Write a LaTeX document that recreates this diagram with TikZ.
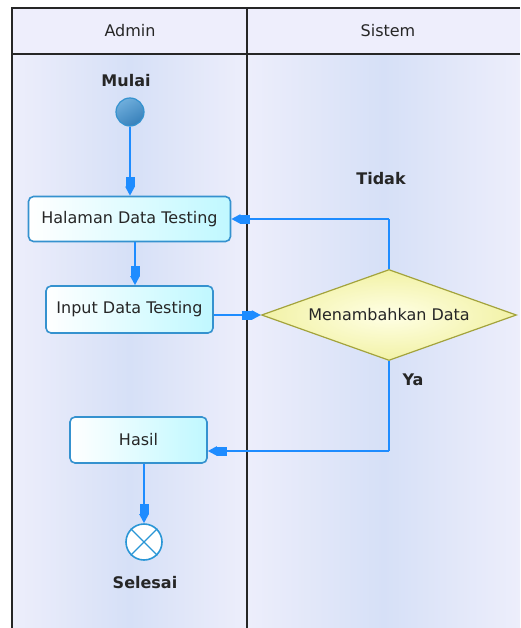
\documentclass[tikz,border=0pt]{standalone}
\usepackage{fontspec}
\setmainfont{DejaVu Sans}
\usetikzlibrary{arrows.meta,shapes.geometric,calc}

\definecolor{laneedge}{HTML}{EDEEFB}
\definecolor{lanemid}{HTML}{D6E0F7}
\definecolor{headbg}{HTML}{EEEEFC}
\definecolor{flow}{HTML}{1E8CFF}
\definecolor{boxline}{HTML}{3592CF}
\definecolor{boxfill}{HTML}{C0F8FF}
\definecolor{decline}{HTML}{A3A33C}
\definecolor{decfill}{HTML}{F2F2A6}
\definecolor{ballhi}{HTML}{6FAEDC}
\definecolor{balllo}{HTML}{3780BA}
\definecolor{endline}{HTML}{2A96D6}

\tikzset{
  x=1pt, y=-1pt,
  txt/.style={font=\fontsize{16}{18}\selectfont, text=black!85},
  boldtxt/.style={font=\fontsize{16}{18}\selectfont\bfseries, text=black!85},
  actbox/.style={txt, draw=boxline, line width=1.6pt, rounded corners=5pt,
    left color=white, right color=boxfill, inner sep=0pt},
  decision/.style={txt, diamond, draw=decline, line width=1.2pt,
    inner color=white!90!yellow, outer color=decfill, inner sep=0pt, aspect=2.8},
  flowarr/.style={draw=flow, line width=2pt,
    -{Rectangle[length=10pt,width=9pt]Triangle[length=9pt,width=9pt]}},
  flowline/.style={draw=flow, line width=2pt},
  lanerule/.style={draw=black!85, line width=1.6pt},
}

\begin{document}
\begin{tikzpicture}
\useasboundingbox (0,0) rectangle (520,628);
\fill[white] (0,0) rectangle (520,628);

% swimlane backgrounds
\shade[left color=laneedge, right color=laneedge, middle color=lanemid]
  (12,54) rectangle (247,628);
\shade[left color=laneedge, right color=laneedge, middle color=lanemid]
  (247,54) rectangle (520,628);
\fill[headbg] (12,8) rectangle (520,54);

% lane rules
\draw[lanerule] (12,628) -- (12,8) -- (520,8);
\draw[lanerule] (12,54) -- (520,54);
\draw[lanerule] (247,8) -- (247,628);

% lane headers
\node[txt] (hadmin) at (130,31) {Admin};
\node[txt] (hsistem) at (388,31) {Sistem};

% start
\node[boldtxt] (lmulai) at (126,81) {Mulai};
\node[circle, minimum size=28pt, inner sep=0pt, top color=ballhi, bottom color=balllo,
  shading angle=30, draw=boxline, line width=1.2pt] (start) at (130,112) {};

% activities
\node[actbox, minimum width=202pt, minimum height=45pt] (halaman) at (129.5,219) {Halaman Data Testing};
\node[actbox, minimum width=167pt, minimum height=47pt] (input) at (129.5,309.5) {Input Data Testing};
\node[actbox, minimum width=137pt, minimum height=46pt] (hasil) at (138.5,440) {Hasil};

% decision
\node[decision, minimum width=255pt, minimum height=91pt] (dec) at (389,315) {Menambahkan Data};

% end
\node[circle, minimum size=36pt, inner sep=0pt, fill=white, draw=endline,
  line width=1.6pt] (stop) at (144,542) {};
\draw[endline, line width=1.2pt] (stop.north west) -- (stop.south east)
  (stop.north east) -- (stop.south west);
\node[boldtxt] (lselesai) at (145,583) {Selesai};

% flows
\draw[flowarr] (start) -- (halaman.north -| start);
\draw[flowarr] ($(halaman.south)+(5.5,0)$) -- ($(input.north)+(5.5,0)$);
\draw[flowarr] (input.east |- dec.west) -- (dec.west);
\coordinate (tcorner) at (dec.north |- halaman.east);
\draw[flowline] (dec.north) -- (tcorner);
\draw[flowarr] (tcorner) -- (halaman.east);
\coordinate (ycorner) at (dec.south |- 0,451);
\draw[flowline] (dec.south) -- (ycorner);
\draw[flowarr] (ycorner) -- (hasil.east |- ycorner);
\draw[flowarr] (hasil.south -| stop) -- (stop.north);

% guard labels
\node[boldtxt] (ltidak) at (381,179) {Tidak};
\node[boldtxt] (lya) at (413,380) {Ya};
\end{tikzpicture}
\end{document}
